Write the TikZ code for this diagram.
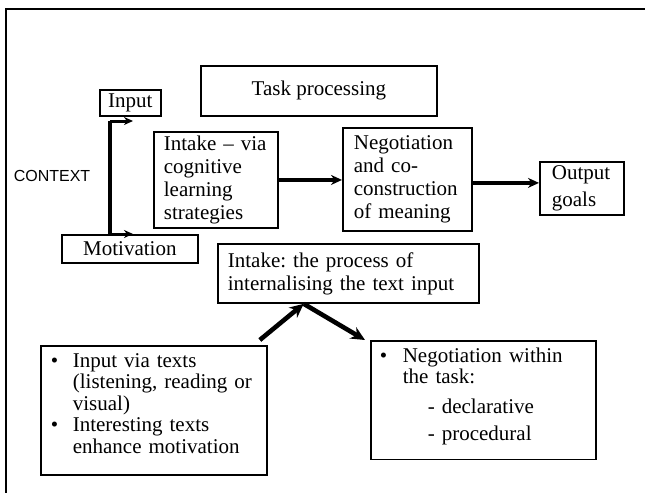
\documentclass[tikz,border=0pt]{standalone}
\usepackage{fontspec}
\setmainfont{Liberation Serif}
\newfontfamily\ctxfont{Liberation Sans}
\usepackage{tikz}
\usetikzlibrary{arrows.meta,calc,positioning}
\frenchspacing
\tikzstyle{box} = [rectangle, draw=black, line width=0.9pt, anchor=north west, align=left, inner ysep=2pt, font=\fontsize{10.5}{11.5}\selectfont]
\tikzstyle{notebox} = [box, inner ysep=3pt, font=\fontsize{10.5}{10.8}\selectfont]
\tikzstyle{arrow} = [line width=1.7pt,-{Stealth[length=5.5pt,width=5pt]}]
\tikzstyle{smallarrow} = [line width=1.5pt,-{Stealth[length=4.5pt,width=4pt]}]
\tikzstyle{bigarrow} = [line width=2.3pt,-{Stealth[length=7pt,width=6.5pt]}]

\begin{document}
\begin{tikzpicture}[x=0.5pt,y=-0.5pt]
\useasboundingbox (0,0) rectangle (645,493);
% Frame
\draw[line width=1.2pt] (6,493) -- (6,9) -- (645,9);

% Context
\node[box, minimum width=118pt, minimum height=25pt, align=center] (task) at (200,65) {Task processing};
\node[box, minimum width=30.5pt, minimum height=13pt, inner sep=0pt, align=center] (input) at (99,89) {Input};
\node[box, minimum width=68pt, minimum height=14pt, inner sep=0pt, align=center] (motivation) at (61,234) {Motivation};
\node[font=\ctxfont\fontsize{8}{10}\selectfont] (context) at (52,176) {CONTEXT};

% Processing chain
\node[box, text width=52pt, inner xsep=5pt, minimum height=47pt] (intake) at (153,131) {Intake~--~via\\cognitive\\learning\\strategies};
\node[box, text width=53.5pt, inner xsep=5.5pt, minimum height=51.5pt] (negotiation) at (342,127) {Negotiation\\and co-\\construction\\of meaning};
\node[box, text width=30pt, inner xsep=6pt, minimum height=26pt] (output) at (539,161) {Output\\[2pt]goals};

% Intake and notes
\node[box, text width=120.5pt, inner xsep=5pt, minimum height=29.5pt] (process) at (217,243) {Intake: the process of\\internalising the text input};
\node[notebox, text width=103pt, inner xsep=5pt] (inputnotes) at (40,345) {\begin{tabular}{@{}l@{\hspace{7.3pt}}l@{}}
\textbullet & Input via texts\\
 & (listening, reading or\\
 & visual)\\
\textbullet & Interesting texts\\
 & enhance motivation\\[4.4pt]
\end{tabular}};
\node[notebox, text width=103.5pt, inner xsep=4.5pt] (negotnotes) at (370,340) {\begin{tabular}{@{}l@{\hspace{7.8pt}}l@{}}
\textbullet & Negotiation within\\
 & the task:\\[4pt]
 & \hspace{12.5pt}- declarative\\[2.6pt]
 & \hspace{12.5pt}- procedural\\[3.5pt]
\end{tabular}};

% Arrows
\coordinate (bartop) at (110,121);
\coordinate (barbot) at (bartop |- motivation.north);
\coordinate (inputtip) at (133,121);
\coordinate (motivtip) at (barbot -| inputtip);
\draw[line width=1.6pt] (bartop) -- (barbot);
\draw[smallarrow] (bartop) -- (inputtip);
\draw[smallarrow] (barbot) -- (motivtip);

\draw[arrow] (intake.east) -- (intake.east -| negotiation.west);
\coordinate (outstart) at ([yshift=-1.75pt]negotiation.east);
\draw[arrow] (outstart) -- (outstart -| output.west);

\coordinate (meet) at ($(process.south west)!0.33!(process.south east)$);
\draw[bigarrow] ([xshift=-4pt,yshift=2.5pt]inputnotes.north east) -- (meet);
\draw[bigarrow] (meet) -- ([xshift=-2.5pt]negotnotes.north west);
\end{tikzpicture}
\end{document}
